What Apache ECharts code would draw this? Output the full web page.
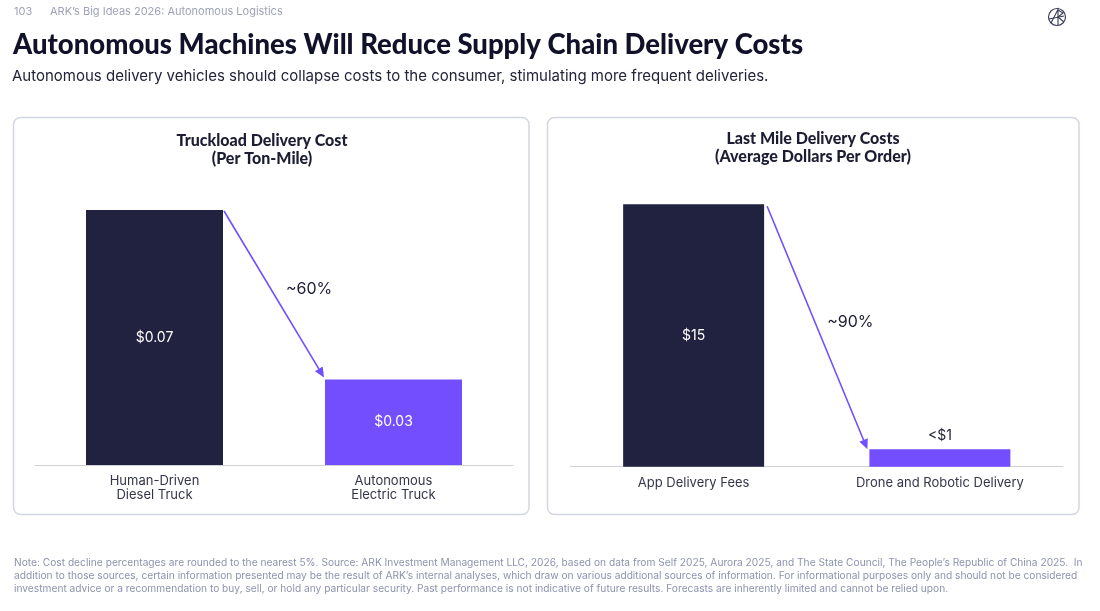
<!DOCTYPE html>
<html>
<head>
<meta charset="utf-8">
<title>Autonomous Machines Will Reduce Supply Chain Delivery Costs</title>
<script src="https://cdn.jsdelivr.net/npm/echarts@6/dist/echarts.min.js"></script>
<style>
	html, body { margin:0; padding:0; background:#ffffff; }
	#main { width:1100px; height:611px; }
</style>
</head>
<body>
<div id="main"></div>
<script>
// ---------------- data ----------------
var truckCategories = ['Human-Driven\nDiesel Truck', 'Autonomous\nElectric Truck'];
var truckValues = [0.07, 0.0235];
var truckLabels = ['$0.07', '$0.03'];
var truckDecline = '~60%';

var lastMileCategories = ['App Delivery Fees', 'Drone and Robotic Delivery'];
var lastMileValues = [15, 1.0];
var lastMileLabels = ['$15', '<$1'];
var lastMileDecline = '~90%';

var footNote = [
	'Note: Cost decline percentages are rounded to the nearest 5%. Source: ARK Investment Management LLC, 2026, based on data from Self 2025, Aurora 2025, and The State Council, The People\u2019s Republic of China 2025.  In',
	'addition to those sources, certain information presented may be the result of ARK\u2019s internal analyses, which draw on various additional sources of information. For informational purposes only and should not be considered',
	'investment advice or a recommendation to buy, sell, or hold any particular security. Past performance is not indicative of future results. Forecasts are inherently limited and cannot be relied upon.'
];

// ---------------- style ----------------
var DARK = '#212240';
var PURPLE = '#724eff';
var TEXT = '#1c1d33';
var GREY = '#9da2b8';
var FONT = 'Inter, "Noto Sans", sans-serif';
var HEAD = 'Lato, "Noto Sans", sans-serif';

var chart = echarts.init(document.getElementById('main'), null, {renderer:'canvas'});

function barData(values, labels, colors, outsideIdx) {
	return values.map(function(v, i){
		var inside = i !== outsideIdx;
		return {
			value: v,
			itemStyle: {color: colors[i]},
			label: {
				show: true,
				position: inside ? 'inside' : 'top',
				distance: 6,
				formatter: labels[i],
				color: inside ? '#ffffff' : TEXT,
				fontSize: 14,
				fontFamily: FONT
			}
		};
	});
}

function xAxisCfg(idx, cats) {
	return {
		type: 'category',
		gridIndex: idx,
		data: cats,
		axisLine: {lineStyle: {color: '#cfd0da', width: 1}},
		axisTick: {show: false},
		axisLabel: {color: '#34354a', fontSize: 13, lineHeight: 14, margin: 9, fontFamily: FONT}
	};
}

function yAxisCfg(idx, max) {
	return {type: 'value', gridIndex: idx, min: 0, max: max, show: false, splitLine: {show: false}};
}

chart.setOption({
	animation: false,
	grid: [
		{left: 35, right: 587, top: 173.6, bottom: 146},
		{left: 570.5, right: 37, top: 186.8, bottom: 144.3}
	],
	xAxis: [xAxisCfg(0, truckCategories), xAxisCfg(1, lastMileCategories)],
	yAxis: [yAxisCfg(0, 0.08), yAxisCfg(1, 16)],
	series: [
		{
			type: 'bar', xAxisIndex: 0, yAxisIndex: 0, barWidth: 137,
			data: barData(truckValues, truckLabels, [DARK, PURPLE], -1)
		},
		{
			type: 'bar', xAxisIndex: 1, yAxisIndex: 1, barWidth: 141,
			data: barData(lastMileValues, lastMileLabels, [DARK, PURPLE], 1)
		}
	]
});

// ---------------- arrows between bars, from the axes ----------------
function arrowGraphics(gridIndex, values, barWidth, text, sOff, eOff, tOff) {
	var p0 = chart.convertToPixel({gridIndex: gridIndex}, [0, values[0]]);
	var p1 = chart.convertToPixel({gridIndex: gridIndex}, [1, values[1]]);
	var x0 = p0[0] + barWidth / 2 + sOff[0], y0 = p0[1] + sOff[1];
	var x1 = p1[0] - barWidth / 2 + eOff[0], y1 = p1[1] + eOff[1];
	var dx = x1 - x0, dy = y1 - y0, len = Math.sqrt(dx * dx + dy * dy);
	var ux = dx / len, uy = dy / len;
	var hl = 10, hw = 4.5;
	var bx = x1 - ux * hl, by = y1 - uy * hl;
	var mx = (x0 + x1) / 2, my = (y0 + y1) / 2;
	return [
		{type: 'line', shape: {x1: x0, y1: y0, x2: bx, y2: by}, style: {stroke: PURPLE, lineWidth: 1.6}},
		{type: 'polygon', shape: {points: [[x1, y1], [bx - uy * hw, by + ux * hw], [bx + uy * hw, by - ux * hw]]}, style: {fill: PURPLE}},
		{type: 'text', x: mx + tOff[0], y: my + tOff[1],
			style: {text: text, fill: TEXT, font: '16px ' + FONT, textAlign: 'left', textVerticalAlign: 'middle'}}
	];
}

var graphics = [
	// header
	{type: 'text', x: 14, y: 12, style: {text: '103', fill: GREY, font: '11px ' + FONT, textVerticalAlign: 'middle'}},
	{type: 'text', x: 50, y: 12, style: {text: 'ARK\u2019s Big Ideas 2026: Autonomous Logistics', fill: GREY, font: '11px ' + FONT, textVerticalAlign: 'middle'}},
	{type: 'text', x: 13, y: 45, style: {text: 'Autonomous Machines Will Reduce Supply Chain Delivery Costs', fill: '#11122a', font: '900 27.5px ' + HEAD, textVerticalAlign: 'middle'}},
	{type: 'text', x: 12, y: 76, style: {text: 'Autonomous delivery vehicles should collapse costs to the consumer, stimulating more frequent deliveries.', fill: '#22233a', font: '15px ' + FONT, textVerticalAlign: 'middle'}},
	// logo
	{type: 'circle', shape: {cx: 1057, cy: 17, r: 8.5}, style: {fill: 'none', stroke: '#3b3c58', lineWidth: 1.2}},
	{type: 'polyline', shape: {points: [[1051, 23], [1058, 9.5], [1058, 25]]}, style: {fill: 'none', stroke: '#3b3c58', lineWidth: 1.1}},
	{type: 'polyline', shape: {points: [[1058, 10], [1063, 13], [1058, 17], [1064, 22]]}, style: {fill: 'none', stroke: '#3b3c58', lineWidth: 1.1}},
	{type: 'line', shape: {x1: 1049, y1: 19, x2: 1064, y2: 16}, style: {stroke: '#3b3c58', lineWidth: 1.1}},
	// panels
	{type: 'rect', shape: {x: 13.5, y: 117.5, width: 515.5, height: 397, r: 7}, style: {fill: 'none', stroke: '#d4d6e2', lineWidth: 1.5}},
	{type: 'rect', shape: {x: 547.5, y: 117.5, width: 531.5, height: 397, r: 7}, style: {fill: 'none', stroke: '#d4d6e2', lineWidth: 1.5}},
	// panel titles
	{type: 'text', x: 262, y: 141, style: {text: 'Truckload Delivery Cost', fill: TEXT, font: '900 16px ' + HEAD, textAlign: 'center', textVerticalAlign: 'middle'}},
	{type: 'text', x: 262, y: 159, style: {text: '(Per Ton-Mile)', fill: TEXT, font: '900 16px ' + HEAD, textAlign: 'center', textVerticalAlign: 'middle'}},
	{type: 'text', x: 813, y: 139, style: {text: 'Last Mile Delivery Costs', fill: TEXT, font: '900 16px ' + HEAD, textAlign: 'center', textVerticalAlign: 'middle'}},
	{type: 'text', x: 813, y: 157, style: {text: '(Average Dollars Per Order)', fill: TEXT, font: '900 16px ' + HEAD, textAlign: 'center', textVerticalAlign: 'middle'}}
];

footNote.forEach(function(line, i){
	graphics.push({type: 'text', x: 14, y: 563 + i * 13, style: {text: line, fill: '#8d93ae', font: '10.2px ' + FONT, textVerticalAlign: 'middle'}});
});

graphics = graphics
	.concat(arrowGraphics(0, truckValues, 137, truckDecline, [1, 1], [-1, -2], [12, -5]))
	.concat(arrowGraphics(1, lastMileValues, 141, lastMileDecline, [3, 2], [-2, 0], [10, -6]));

chart.setOption({graphic: graphics});
</script>
</body>
</html>
